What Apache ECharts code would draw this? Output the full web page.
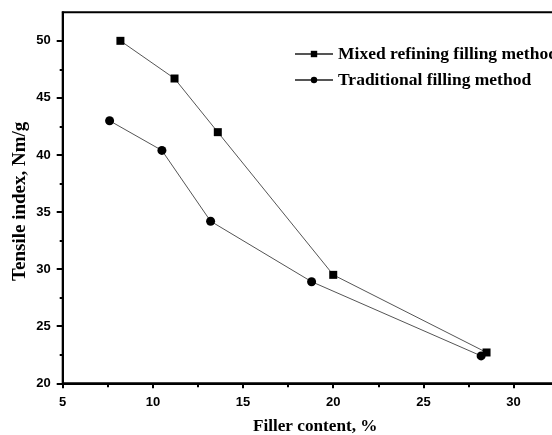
<!DOCTYPE html>
<html><head><meta charset="utf-8">
<script src="https://cdn.jsdelivr.net/npm/echarts@6/dist/echarts.min.js"></script>
<style>html,body{margin:0;padding:0;background:#fff}#c{width:552px;height:435px}</style>
</head><body><div id="c"></div>
<script>
const seriesNames = ['Mixed refining filling method', 'Traditional filling method'];
const mixedX = [8.2, 11.2, 13.6, 20.0, 28.5];
const mixedY = [50.0, 46.7, 42.0, 29.5, 22.7];
const tradX = [7.6, 10.5, 13.2, 18.8, 28.2];
const tradY = [43.0, 40.4, 34.2, 28.9, 22.4];
const xTicks = [5, 10, 15, 20, 25, 30];
const xMinorTicks = [7.5, 12.5, 17.5, 22.5, 27.5, 32.5];
const yTicks = [20, 25, 30, 35, 40, 45, 50];
const yMinorTicks = [22.5, 27.5, 32.5, 37.5, 42.5, 47.5];
const xTitle = 'Filler content, %';
const yTitle = 'Tensile index, Nm/g';

const chart = echarts.init(document.getElementById('c'), null, {renderer: 'canvas'});
const serif = '"Liberation Serif", "Times New Roman", serif';
const sans = '"Liberation Sans", Arial, sans-serif';
const X = {min: 5, max: 33};
const Y = {min: 20, max: 52.5};
function pairs(xs, ys) { return xs.map((x, i) => [x, ys[i]]); }

chart.setOption({
  animation: false,
  backgroundColor: '#fff',
  grid: {left: 62.7, top: 12.3, height: 371, width: 505, outerBoundsMode: 'none', containLabel: false,
         show: true, borderColor: '#000', borderWidth: 2},
  legend: {
    left: 289, top: 40, orient: 'vertical',
    itemWidth: 38, itemHeight: 8, itemGap: 8,
    textStyle: {fontFamily: serif, fontWeight: 'bold', fontSize: 17.5, color: '#000', lineHeight: 18},
    data: seriesNames
  },
  xAxis: [{
    type: 'value', min: X.min, max: X.max, interval: 5,
    name: xTitle, nameLocation: 'middle', nameGap: 35,
    nameTextStyle: {fontFamily: serif, fontWeight: 'bold', fontSize: 17.2, color: '#000'},
    axisLine: {lineStyle: {color: '#000', width: 2}},
    axisTick: {customValues: xTicks, length: 5, lineStyle: {color: '#000', width: 2}},
    axisLabel: {customValues: xTicks, margin: 13, fontFamily: sans, fontWeight: 'bold', fontSize: 13, color: '#000'},
    splitLine: {show: false}
  }, {
    type: 'value', min: X.min, max: X.max, position: 'bottom', gridIndex: 0,
    axisLine: {show: false},
    axisTick: {customValues: xMinorTicks, length: 4, lineStyle: {color: '#000', width: 2}},
    axisLabel: {show: false}, splitLine: {show: false}
  }],
  yAxis: [{
    type: 'value', min: Y.min, max: Y.max, interval: 5,
    name: yTitle, nameLocation: 'middle', nameGap: 33, nameRotate: 90, nameMoveOverlap: false,
    nameTextStyle: {fontFamily: serif, fontWeight: 'bold', fontSize: 19, color: '#000', padding: [0, 7, 0, 0]},
    axisLine: {lineStyle: {color: '#000', width: 2}},
    axisTick: {customValues: yTicks, length: 6, lineStyle: {color: '#000', width: 2}},
    axisLabel: {customValues: yTicks, margin: 12, fontFamily: sans, fontWeight: 'bold', fontSize: 13, color: '#000'},
    splitLine: {show: false}
  }, {
    type: 'value', min: Y.min, max: Y.max, position: 'left', gridIndex: 0,
    axisLine: {show: false},
    axisTick: {customValues: yMinorTicks, length: 3, lineStyle: {color: '#000', width: 2}},
    axisLabel: {show: false}, splitLine: {show: false}
  }],
  series: [{
    name: seriesNames[0], type: 'line', data: pairs(mixedX, mixedY),
    symbol: 'rect', symbolSize: 8,
    lineStyle: {color: '#555', width: 1}, itemStyle: {color: '#000'}
  }, {
    name: seriesNames[1], type: 'line', data: pairs(tradX, tradY),
    symbol: 'circle', symbolSize: 9,
    lineStyle: {color: '#555', width: 1}, itemStyle: {color: '#000'}
  }]
});
</script></body></html>
